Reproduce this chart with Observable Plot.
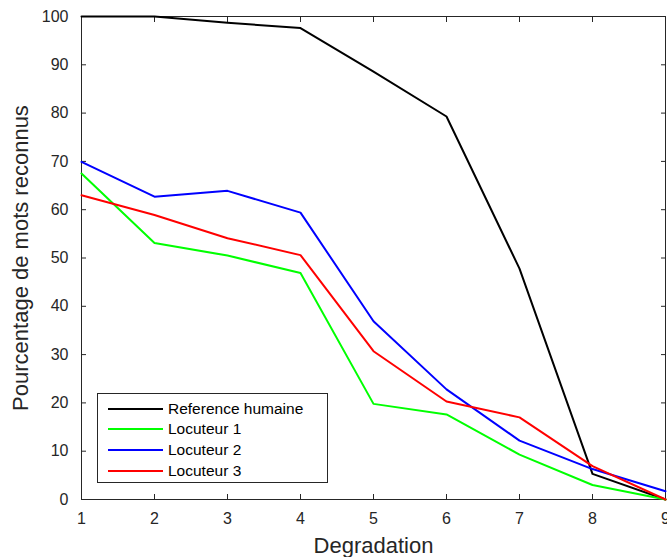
<!DOCTYPE html>
<html><head><meta charset="utf-8">
<script src="https://cdn.jsdelivr.net/npm/d3@7"></script>
<script src="https://cdn.jsdelivr.net/npm/@observablehq/plot@0.6"></script>
<style>
body{margin:0;background:#fff;font-family:"Liberation Sans",Arial,sans-serif;}
#wrap{position:relative;width:667px;height:557px;}
#legend{position:absolute;left:97px;top:393px;width:231px;height:90px;border:1px solid #262626;background:#fff;box-sizing:border-box;font-size:15.5px;color:#000;}
.row{position:absolute;left:0;height:21px;display:flex;align-items:center;white-space:nowrap;}
.sw{width:55px;height:2px;margin-left:10px;margin-right:5px;}
</style></head>
<body><div id="wrap"></div>
<script>
const degradation = [1,2,3,4,5,6,7,8,9];
const seriesNames = ["Reference humaine","Locuteur 1","Locuteur 2","Locuteur 3"];
const seriesColors = ["#000000","#00ff00","#0000ff","#ff0000"];
const reference = [100,100,98.7,97.6,88.6,79.3,47.8,5.3,0];
const locuteur1 = [67.5,53.1,50.5,46.9,19.8,17.6,9.3,3.0,0];
const locuteur2 = [69.9,62.7,63.9,59.4,36.9,22.8,12.2,6.3,1.7];
const locuteur3 = [63.0,58.9,54.1,50.6,30.7,20.3,17.0,6.9,0];
const xTicks = [1,2,3,4,5,6,7,8,9];
const yTicks = [0,10,20,30,40,50,60,70,80,90,100];

const allSeries = [reference, locuteur1, locuteur2, locuteur3];
const rows = [];
allSeries.forEach((vals, i) => vals.forEach((v, j) => rows.push({x: degradation[j], y: v, s: seriesNames[i]})));

const ink = "#262626";
const chart = Plot.plot({
  width: 667, height: 557,
  marginLeft: 81, marginRight: 2, marginTop: 16, marginBottom: 58,
  style: {fontFamily: '"Liberation Sans", Arial, sans-serif', fontSize: "16px", color: ink, background: "#fff", overflow: "visible"},
  x: {domain: [1, 9], ticks: xTicks},
  y: {domain: [0, 100], ticks: yTicks},
  color: {domain: seriesNames, range: seriesColors},
  marks: [
    Plot.frame({stroke: ink}),
    Plot.axisX(xTicks, {anchor: "bottom", tickSize: -5, tickPadding: 18, label: null, fontSize: 16, stroke: ink}),
    Plot.axisX(xTicks, {anchor: "bottom", tickSize: 0, tickFormat: () => "", label: "Degradation", labelAnchor: "center", labelArrow: "none", labelOffset: 53, fontSize: 22}),
    Plot.axisX(xTicks, {anchor: "top", tickSize: -5, tickFormat: () => "", label: null, stroke: ink}),
    Plot.axisY(yTicks, {anchor: "left", tickSize: -5, tickPadding: 18, label: null, fontSize: 16, stroke: ink}),
    Plot.axisY(yTicks, {anchor: "left", tickSize: 0, tickFormat: () => "", label: "Pourcentage de mots reconnus", labelAnchor: "center", labelArrow: "none", labelOffset: 69, fontSize: 22}),
    Plot.axisY(yTicks, {anchor: "right", tickSize: -5, tickFormat: () => "", label: null, stroke: ink}),
    Plot.line(rows, {x: "x", y: "y", z: "s", stroke: "s", strokeWidth: 2})
  ]
});
document.getElementById("wrap").appendChild(chart);

const lg = document.createElement("div");
lg.id = "legend";
seriesNames.forEach((n, i) => {
  const r = document.createElement("div");
  r.className = "row";
  r.style.top = (4 + i * 20.7) + "px";
  r.innerHTML = `<div class="sw" style="background:${seriesColors[i]}"></div><span>${n}</span>`;
  lg.appendChild(r);
});
document.getElementById("wrap").appendChild(lg);
</script></body></html>
